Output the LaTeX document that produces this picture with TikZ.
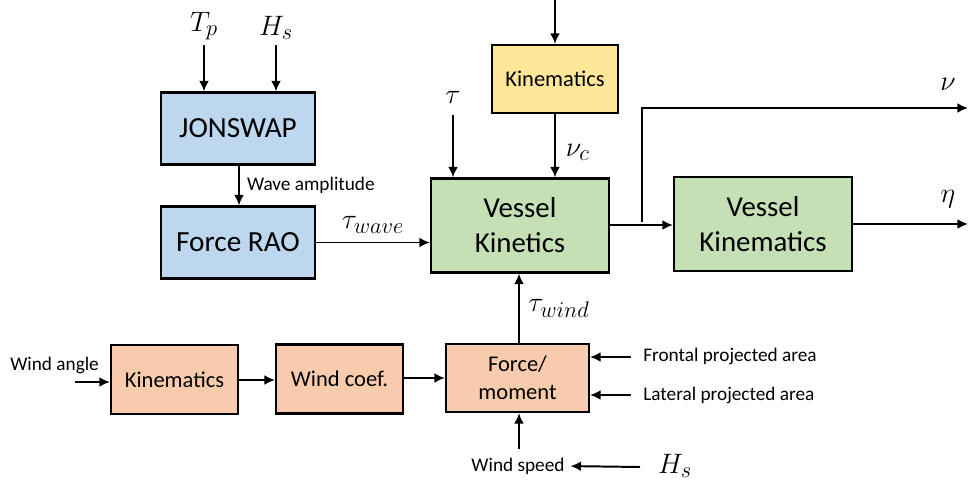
\RequirePackage{fix-cm}
\documentclass[tikz,border=0pt]{standalone}
\usepackage{fontspec}
\setmainfont{Carlito}
\usetikzlibrary{arrows.meta}
\DeclareMathSizes{20}{20}{16}{12}
\definecolor{bluefill}{HTML}{BDD7EE}
\definecolor{greenfill}{HTML}{C5E0B4}
\definecolor{yellowfill}{HTML}{FFE699}
\definecolor{orangefill}{HTML}{F8CBAD}
\tikzset{
  blk/.style={draw=black, line width=1.5pt, align=center, inner sep=0pt},
  bluebox/.style={blk, fill=bluefill, minimum width=3.85cm, minimum height=1.8cm, font=\fontsize{20.8}{24}\selectfont},
  greenbox/.style={blk, fill=greenfill, minimum width=4.45cm, minimum height=2.35cm, font=\fontsize{20.5}{25}\selectfont},
  yellowbox/.style={blk, fill=yellowfill, minimum width=3.15cm, minimum height=1.7cm, font=\fontsize{16}{19}\selectfont},
  orangebox/.style={blk, fill=orangefill, minimum width=3.175cm, minimum height=1.725cm, font=\fontsize{16}{20}\selectfont},
  conn/.style={line width=1.4pt, -{Latex[length=7.5pt,width=7pt]}},
  small/.style={font=\fontsize{13.7}{16}\selectfont, inner sep=0pt},
  mlabel/.style={font=\fontsize{20}{23}\selectfont, inner sep=0pt},
}
\begin{document}
\begin{tikzpicture}[x=0.025cm, y=-0.025cm]
\useasboundingbox (0,0) rectangle (968,483);
% top-left blue blocks
\node[bluebox] (jon) at (238,128.5) {JONSWAP};
\node[bluebox] (rao) at (238,242.5) {Force RAO};
\node[mlabel] (tp) at (204,26) {$T_p$};
\node[mlabel] (hs1) at (276,28) {$H_s$};
\draw[conn] (tp.south |- 0,45) -- (tp.south |- jon.north);
\draw[conn] (hs1.south |- 0,45) -- (hs1.south |- jon.north);
\draw[conn] (jon.south -| 239,0) -- (rao.north -| 239,0) node[midway, right=5pt, small] (wa) {Wave amplitude};

% green blocks
\node[greenbox] (vkin) at (520,225.5) {Vessel\\Kinetics};
\node[greenbox] (vkm) at (763,224) {Vessel\\Kinematics};
\draw[conn] (rao.east) -- (rao.east -| vkin.west) node[midway, above=6pt, mlabel] (tw) {$\tau_{wave}$};

% yellow kinematics
\node[yellowbox] (ykin) at (555,79) {Kinematics};
\coordinate (ytop) at (555,0);
\draw[conn] (ytop) -- (ykin.north);
\draw[conn] (ykin.south) -- (ykin.south |- vkin.north) node[pos=0.6, right=7pt, mlabel] (nuc) {$\nu_c$};
\node[mlabel] (tau) at (453,97) {$\tau$};
\draw[conn] (453,115) -- (453,0 |- vkin.north);

% outputs
\coordinate (br) at (642,225);
\coordinate (nuend) at (968,108);
\coordinate (etaend) at (968,224);
\draw[conn] (vkin.east |- br) -- (vkm.west |- br);
\draw[conn] (642,222) -- (642,108) -- (nuend);
\draw[conn] (vkm.east) -- (etaend);
\node[mlabel] (nu) at (948,84) {$\nu$};
\node[mlabel] (eta) at (948,199) {$\eta$};

% bottom orange blocks
\node[orangebox] (okin) at (174.5,379.5) {Kinematics};
\node[orangebox] (wc) at (339.5,379) {Wind coef.};
\node[orangebox, minimum width=3.575cm, minimum height=1.7cm] (fm) at (517.5,378) {Force/\\moment};
\node[small, anchor=south west] (wang) at (10,374) {Wind angle};
\coordinate (wastart) at (75,382);
\draw[conn] (wastart) -- (wastart -| okin.west);
\draw[conn] (okin.east |- 0,380) -- (wc.west |- 0,380);
\draw[conn] (wc.east |- 0,378) -- (fm.west |- 0,378);
\draw[conn] (fm.north -| 519,0) -- (vkin.south -| 519,0) node[midway, right=6pt, mlabel] (tw2) {$\tau_{wind}$};

\node[small, anchor=west] (fpa) at (643,356) {Frontal projected area};
\node[small, anchor=west] (lpa) at (643,395) {Lateral projected area};
\draw[conn] (631,357) -- (fm.east |- 0,357);
\draw[conn] (631,395) -- (fm.east |- 0,395);

\node[small] (ws) at (518,466) {Wind speed};
\draw[conn] (519,449) -- (fm.south -| 519,0);
\node[mlabel] (hs2) at (675,466) {$H_s$};
\draw[conn, shorten >=4pt] (640,467) -- (ws.east);
\end{tikzpicture}
\end{document}
